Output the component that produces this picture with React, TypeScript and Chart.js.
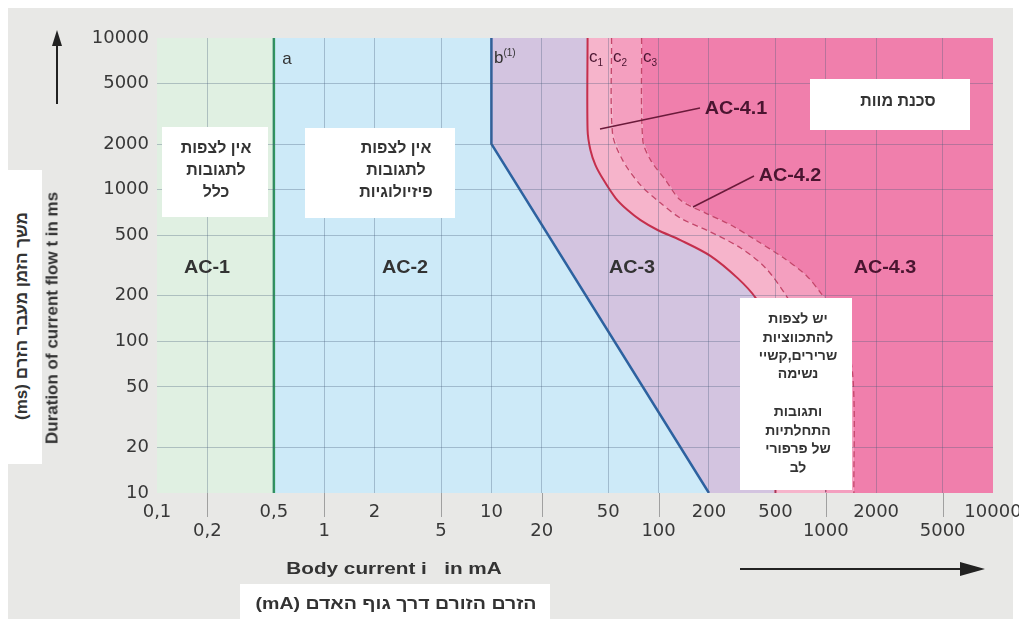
import React, { useEffect, useRef } from 'react';
import { Chart, registerables } from 'chart.js';

Chart.register(...registerables);

// ---- axis ticks ----
const xTicks = [0.1, 0.2, 0.5, 1, 2, 5, 10, 20, 50, 100, 200, 500, 1000, 2000, 5000, 10000];
const xTickLabels = ['0,1', '0,2', '0,5', '1', '2', '5', '10', '20', '50', '100', '200', '500', '1000', '2000', '5000', '10000'];
const xTickLower = [false, true, false, true, false, true, false, true, false, true, false, false, true, false, true, false];
const yTicks = [10, 20, 50, 100, 200, 500, 1000, 2000, 5000, 10000];

// ---- boundary curves (current in mA, duration in ms) ----
const lineAI = [0.5, 0.5];
const lineAT = [10, 10000];
const lineBI = [10, 10, 200];
const lineBT = [10000, 2000, 10];
const c1I = [37.6, 37.6, 39.1, 41.9, 46.9, 55.3, 65.2, 78, 98.6, 135, 205, 297, 381, 460, 500, 500];
const c1T = [10000, 2472, 1824, 1453, 1157, 881, 734, 630, 542, 465, 365, 261, 193, 130, 100, 10];
const c2I = [52.3, 53, 60.9, 78, 102.8, 135, 205, 310, 437, 592, 800, 1000, 1000];
const c2T = [10000, 2360, 1567, 1072, 816, 650, 525, 412, 304, 193, 110, 50, 10];
const c3I = [79.1, 80.4, 89.6, 110, 135, 191, 270, 381, 561, 759, 934, 1230, 1452, 1472];
const c3T = [10000, 2123, 1567, 1157, 854, 701, 585, 465, 354, 274, 208, 138, 58.2, 10];
const xMin = 0.1;
const xMax = 10000;
const yMin = 10;
const yMax = 10000;

const FONT = '"Liberation Sans", Arial, "DejaVu Sans", sans-serif';

type P = { x: number; y: number };
const pts = (is: number[], ts: number[]): P[] => is.map((x, k) => ({ x, y: ts[k] }));
const rev = (a: P[]): P[] => a.slice().reverse();

const T = ({ x, y, children, size = 17, bold = true, color = '#333', sx = 1, rot = 0, dir }: any) => (
  <div
    dir={dir}
    style={{
      position: 'absolute',
      left: x,
      top: y,
      transform: `translate(-50%,-50%) rotate(${rot}deg) scaleX(${sx})`,
      fontSize: size,
      fontWeight: bold ? 700 : 400,
      color,
      whiteSpace: 'pre',
      fontFamily: FONT,
      lineHeight: 1,
    }}
  >
    {children}
  </div>
);

const Box = ({ l, t, w, h }: any) => (
  <div style={{ position: 'absolute', left: l, top: t, width: w, height: h, background: '#ffffff' }} />
);

export default function App() {
  const ref = useRef<HTMLCanvasElement | null>(null);

  useEffect(() => {
    const cv = ref.current;
    if (!cv) return;
    const A = pts(lineAI, lineAT);
    const B = pts(lineBI, lineBT);
    const C1 = pts(c1I, c1T);
    const C2 = pts(c2I, c2T);
    const C3 = pts(c3I, c3T);

    const region = (data: P[], color: string) => ({
      data,
      order: 5,
      fill: 'shape',
      backgroundColor: color,
      borderColor: 'rgba(0,0,0,0)',
      borderWidth: 0,
      pointRadius: 0,
    });
    const ac1 = [{ x: xMin, y: yMin }, { x: xMin, y: yMax }, ...rev(A)];
    const ac2 = [...A, ...B];
    const ac3 = [...B, ...rev(C1)];
    const ac41 = [...C1, ...rev(C2)];
    const ac42 = [...C2, ...rev(C3)];
    const ac43 = [...C3, { x: xMax, y: yMin }, { x: xMax, y: yMax }];

    const line = (data: P[], color: string, width: number, order: number, dash: number[] = [], tension = 0) => ({
      data,
      order,
      fill: false,
      borderColor: color,
      borderWidth: width,
      borderDash: dash,
      pointRadius: 0,
      tension,
    });

    const tickMarks = {
      id: 'tickMarks',
      afterDraw(chart: any) {
        const { ctx, chartArea } = chart;
        const xs = chart.scales.x;
        ctx.save();
        ctx.strokeStyle = '#a0a0a0';
        ctx.lineWidth = 1;
        xTicks.forEach((v, i) => {
          if (!xTickLower[i]) return;
          const px = Math.round(xs.getPixelForValue(v)) + 0.5;
          ctx.beginPath();
          ctx.moveTo(px, chartArea.bottom);
          ctx.lineTo(px, chartArea.bottom + 24);
          ctx.stroke();
        });
        ctx.restore();
      },
    };

    const gridCol = (edgeA: number, edgeB: number) => (c: any) =>
      c.tick && (c.tick.value === edgeA || c.tick.value === edgeB) ? 'rgba(0,0,0,0)' : 'rgba(70,90,120,0.33)';

    const chart = new Chart(cv, {
      type: 'line',
      data: {
        datasets: [
          region(ac1, '#e0f0e2'),
          region(ac2, '#cdeaf8'),
          region(ac3, '#d3c4e0'),
          region(ac41, '#f6b4cb'),
          region(ac42, '#f49fbf'),
          region(ac43, '#f07fac'),
          line(A, '#2f9a5e', 2.5, 1),
          line(B, '#2d62a0', 2.5, 1),
          line(C2, '#c4466a', 1.3, 2, [6, 4], 0.3),
          line(C3, '#c4466a', 1.3, 2, [6, 4], 0.3),
          line(C1, '#c52f4c', 2, 0, [], 0.3),
        ] as any,
      },
      options: {
        responsive: false,
        animation: false,
        events: [],
        layout: { padding: { top: 38, right: 26, left: 0, bottom: 0 } },
        plugins: { legend: { display: false }, tooltip: { enabled: false }, title: { display: false } },
        scales: {
          x: {
            type: 'logarithmic',
            min: xMin,
            max: xMax,
            border: { display: false },
            afterBuildTicks: (s: any) => {
              s.ticks = xTicks.map((v) => ({ value: v }));
            },
            afterFit: (s: any) => {
              s.height = 126;
              s.paddingRight = 0;
              s.paddingLeft = 0;
            },
            grid: { z: 1, drawTicks: false, color: gridCol(xMin, xMax), lineWidth: 1 },
            ticks: {
              autoSkip: false,
              maxRotation: 0,
              minRotation: 0,
              padding: 10,
              color: '#383838',
              font: { family: '"DejaVu Sans", sans-serif', size: 18, lineHeight: 1.05 },
              callback: (_v: any, i: number) => (xTickLower[i] ? ['', xTickLabels[i]] : xTickLabels[i]),
            },
          },
          y: {
            type: 'logarithmic',
            min: yMin,
            max: yMax,
            border: { display: false },
            afterBuildTicks: (s: any) => {
              s.ticks = yTicks.map((v) => ({ value: v }));
            },
            afterFit: (s: any) => {
              s.width = 157;
              s.paddingTop = 0;
              s.paddingBottom = 0;
            },
            grid: { z: 1, drawTicks: false, color: gridCol(yMin, yMax), lineWidth: 1 },
            ticks: {
              autoSkip: false,
              padding: 8,
              color: '#383838',
              font: { family: '"DejaVu Sans", sans-serif', size: 18 },
              callback: (v: any) => String(v),
            },
          },
        },
      } as any,
      plugins: [tickMarks],
    });
    return () => chart.destroy();
  }, []);

  const maroon = '#4a1530';

  return (
    <div style={{ position: 'absolute', left: 0, top: 0, width: 1019, height: 619, background: '#ffffff', overflow: 'hidden' }}>
      <div style={{ position: 'absolute', left: 8, top: 8, width: 1005, height: 611, background: '#e8e8e6' }} />
      <canvas ref={ref} width={1019} height={619} style={{ position: 'absolute', left: 0, top: 0 }} />

      {/* axis titles */}
      <Box l={0} t={170} w={42} h={294} />
      <T x={21} y={316} rot={-90} size={17} dir="rtl">משך הזמן מעבר הזרם (ms)</T>
      <T x={52} y={318} rot={-90} size={17}>Duration of current flow t in ms</T>
      <T x={394} y={568} size={17} sx={1.22}>{'Body current i   in mA'}</T>
      <Box l={240} t={584} w={310} h={35} />
      <T x={396} y={603} size={17} sx={1.15} dir="rtl">הזרם הזורם דרך גוף האדם (mA)</T>

      {/* arrows */}
      <svg width={1019} height={619} style={{ position: 'absolute', left: 0, top: 0 }}>
        <line x1={57} y1={104} x2={57} y2={44} stroke="#222" strokeWidth={2} />
        <polygon points="57,30 52,46 62,46" fill="#222" />
        <line x1={740} y1={569} x2={962} y2={569} stroke="#222" strokeWidth={2} />
        <polygon points="985,569 960,562 960,576" fill="#222" />
        <line x1={600} y1={129} x2={700} y2={108} stroke="#6a1a3a" strokeWidth={1.5} />
        <line x1={693} y1={207} x2={754} y2={176} stroke="#6a1a3a" strokeWidth={1.5} />
      </svg>

      {/* boundary letters */}
      <T x={287} y={58} size={17} bold={false} color="#333">a</T>
      <div style={{ position: 'absolute', left: 494, top: 47, fontFamily: FONT, fontSize: 17, color: '#333' }}>
        b<sup style={{ fontSize: 10 }}>(1)</sup>
      </div>
      <div style={{ position: 'absolute', left: 589, top: 47, fontFamily: FONT, fontSize: 17, color: maroon }}>
        c<sub style={{ fontSize: 10 }}>1</sub>
      </div>
      <div style={{ position: 'absolute', left: 613, top: 47, fontFamily: FONT, fontSize: 17, color: maroon }}>
        c<sub style={{ fontSize: 10 }}>2</sub>
      </div>
      <div style={{ position: 'absolute', left: 643, top: 47, fontFamily: FONT, fontSize: 17, color: maroon }}>
        c<sub style={{ fontSize: 10 }}>3</sub>
      </div>

      {/* region labels */}
      <T x={207} y={267} size={18} sx={1.1}>AC-1</T>
      <T x={405} y={267} size={18} sx={1.1}>AC-2</T>
      <T x={632} y={267} size={18} sx={1.1}>AC-3</T>
      <T x={736} y={108} size={18} sx={1.1} color={maroon}>AC-4.1</T>
      <T x={790} y={175} size={18} sx={1.1} color={maroon}>AC-4.2</T>
      <T x={885} y={267} size={18} sx={1.1} color={maroon}>AC-4.3</T>

      {/* annotation boxes */}
      <Box l={162} t={127} w={106} h={90} />
      <T x={216} y={148} size={16} dir="rtl">אין לצפות</T>
      <T x={216} y={170} size={16} dir="rtl">לתגובות</T>
      <T x={216} y={192} size={16} dir="rtl">כלל</T>

      <Box l={305} t={128} w={150} h={90} />
      <T x={396} y={148} size={16} dir="rtl">אין לצפות</T>
      <T x={396} y={170} size={16} dir="rtl">לתגובות</T>
      <T x={396} y={192} size={16} dir="rtl">פיזיולוגיות</T>

      <Box l={810} t={79} w={160} h={51} />
      <T x={898} y={101} size={16} dir="rtl">סכנת מוות</T>

      <Box l={740} t={298} w={112} h={192} />
      <T x={798} y={318} size={14} dir="rtl">יש לצפות</T>
      <T x={798} y={337} size={14} dir="rtl">להתכווציות</T>
      <T x={798} y={355} size={14} dir="rtl">שרירים,קשיי</T>
      <T x={798} y={373} size={14} dir="rtl">נשימה</T>
      <T x={798} y={411} size={14} dir="rtl">ותגובות</T>
      <T x={798} y={430} size={14} dir="rtl">התחלתיות</T>
      <T x={798} y={448} size={14} dir="rtl">של פרפורי</T>
      <T x={798} y={467} size={14} dir="rtl">לב</T>
    </div>
  );
}
